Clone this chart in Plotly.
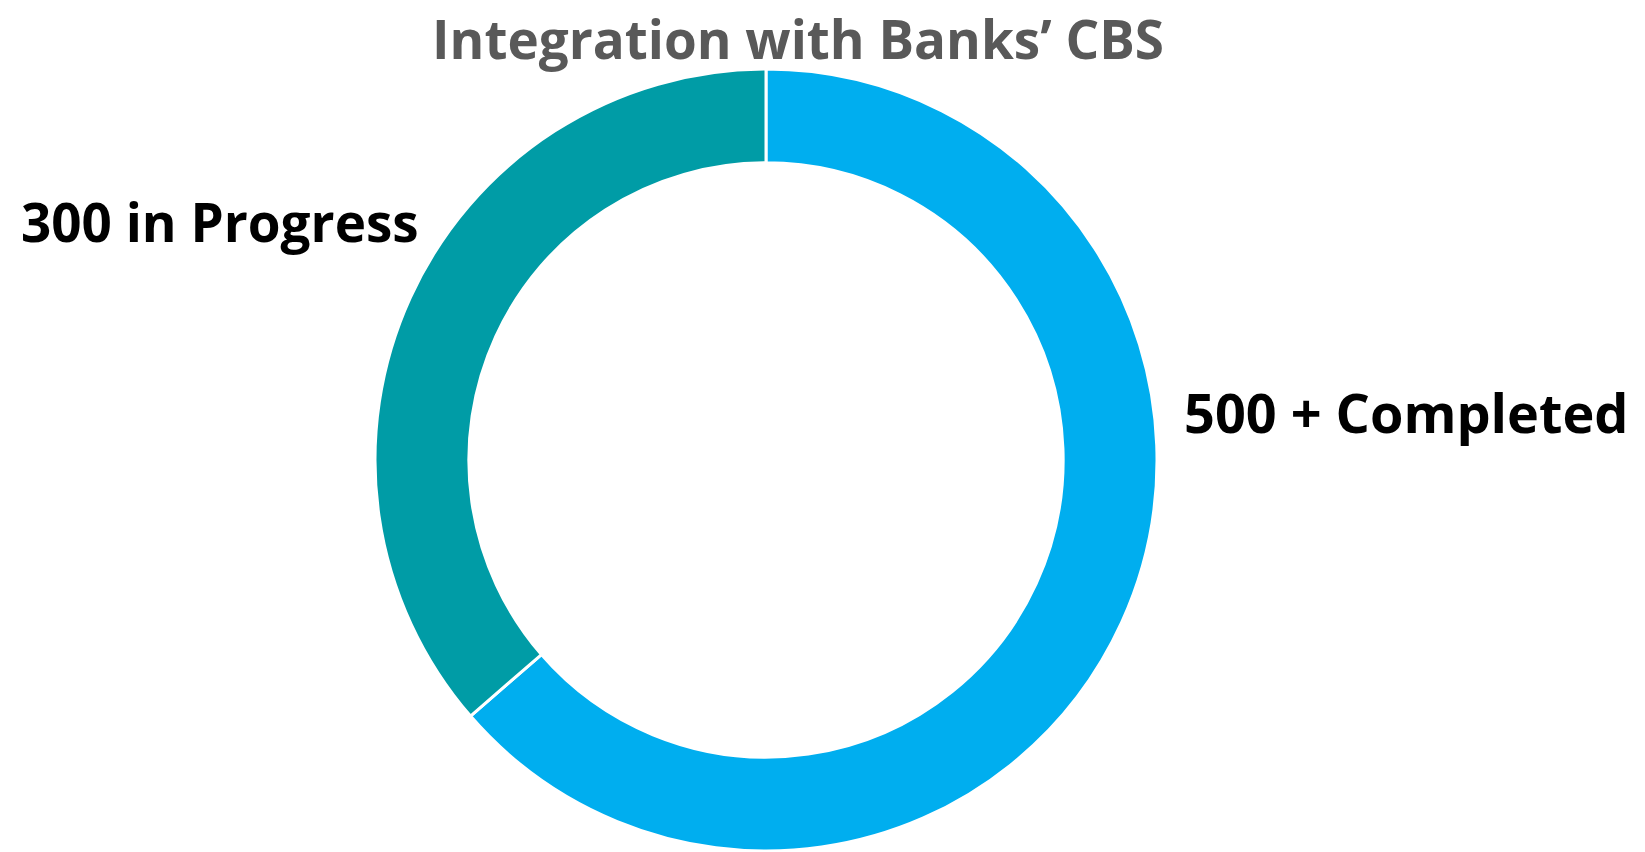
import plotly.graph_objects as go

labels = ["500 + Completed", "300 in Progress"]
values = [525, 300]
colors = ["#00AEEF", "#009CA6"]
title_text = "Integration with Banks’ CBS"

W, H = 1645, 852
cx, cy, r = 766, 460, 391

fig = go.Figure(go.Pie(
    labels=labels,
    values=values,
    hole=0.76,
    sort=False,
    direction="clockwise",
    rotation=0,
    marker=dict(colors=colors, line=dict(color="white", width=3)),
    textinfo="none",
    hoverinfo="label+value",
    showlegend=False,
    domain=dict(x=[(cx - r) / W, (cx + r) / W], y=[1 - (cy + r) / H, 1 - (cy - r) / H]),
))

font_family = "Open Sans, Lato, sans-serif"
fig.add_annotation(text="<b>" + title_text + "</b>", x=798 / W, y=1.0,
                   xref="paper", yref="paper", showarrow=False,
                   xanchor="center", yanchor="top",
                   font=dict(family=font_family, size=53, color="#595959"))
fig.add_annotation(text="<b>" + labels[1] + "</b>", x=19 / W, y=1 - 221 / H,
                   xref="paper", yref="paper", showarrow=False,
                   xanchor="left", yanchor="middle",
                   font=dict(family=font_family, size=53, color="#000000"))
fig.add_annotation(text="<b>" + labels[0] + "</b>", x=1631 / W, y=1 - 412 / H,
                   xref="paper", yref="paper", showarrow=False,
                   xanchor="right", yanchor="middle",
                   font=dict(family=font_family, size=54, color="#000000"))

fig.update_layout(width=W, height=H, margin=dict(l=0, r=0, t=0, b=0),
                  paper_bgcolor="white", plot_bgcolor="white")
fig.write_html("out.html")
